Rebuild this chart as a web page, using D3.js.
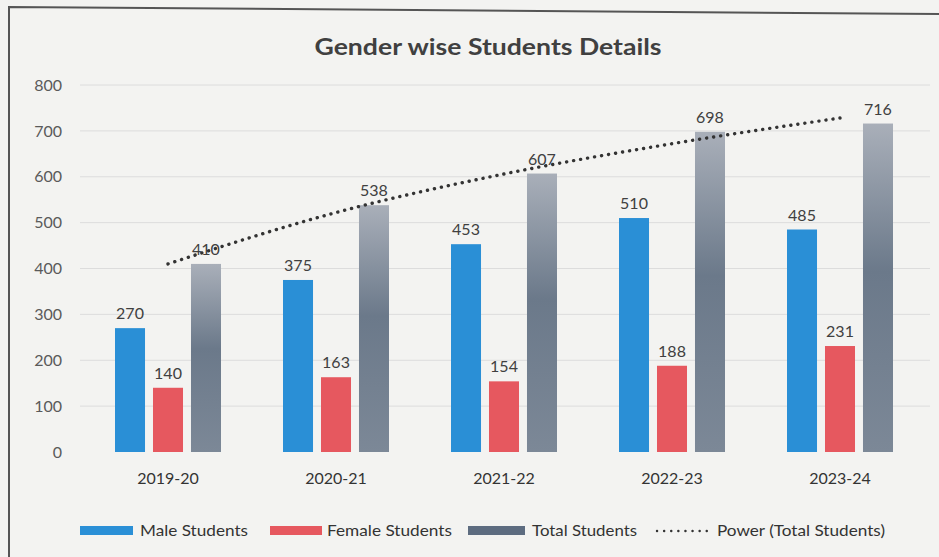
<!DOCTYPE html>
<html><head><meta charset="utf-8">
<script src="https://cdn.jsdelivr.net/npm/d3@7"></script>
<style>
html,body{margin:0;padding:0;background:#f3f3f1;}
svg{display:block;}
text{font-family:Lato,"Open Sans",sans-serif;}
</style></head>
<body><svg id="c" width="939" height="557"></svg>
<script>
const categories = ["2019-20","2020-21","2021-22","2022-23","2023-24"];
const maleStudents = [270,375,453,510,485];
const femaleStudents = [140,163,154,188,231];
const totalStudents = [410,538,607,698,716];
const trendTotal = [410,522,606,672,728];
const seriesNames = ["Male Students","Female Students","Total Students"];
const yTicks = [0,100,200,300,400,500,600,700,800];
const title = "Gender wise Students Details";
const trendName = "Power (Total Students)";

const svg = d3.select("#c");
const defs = svg.append("defs");
const g1 = defs.append("linearGradient").attr("id","totGrad").attr("x1",0).attr("y1",0).attr("x2",0).attr("y2",1);
g1.append("stop").attr("offset","0%").attr("stop-color","#a9afb9");
g1.append("stop").attr("offset","45%").attr("stop-color","#6b798a");
g1.append("stop").attr("offset","100%").attr("stop-color","#7c8897");

// border of the photographed chart
svg.append("path").attr("d","M9,557 L9,7 L939,14").attr("fill","none").attr("stroke","#555").attr("stroke-width",2);

const x = d3.scaleBand().domain(categories).range([84,924]).padding(0);
const xs = d3.scaleBand().domain(seriesNames).range([-53,53]).paddingInner(0.21);
const y = d3.scaleLinear().domain([0,800]).range([452,85]);

// gridlines
svg.append("g").selectAll("line").data(yTicks.slice(1)).join("line")
  .attr("x1",80).attr("x2",930).attr("y1",d=>y(d)).attr("y2",d=>y(d))
  .attr("stroke","#dcdcdc").attr("stroke-width",1);

// y axis labels
const yAxis = d3.axisLeft(y).tickValues(yTicks).tickSize(0).tickPadding(0);
const ya = svg.append("g").attr("transform","translate(62,0)").call(yAxis);
ya.select(".domain").remove();
ya.selectAll("text").attr("font-size",16).attr("fill","#5a5a5a").attr("font-family","Lato,sans-serif");

// x axis labels
const xAxis = d3.axisBottom(x).tickSize(0).tickPadding(0);
const xa = svg.append("g").attr("transform","translate(0,473)").call(xAxis);
xa.select(".domain").remove();
xa.selectAll("text").attr("font-size",16).attr("fill","#333").attr("font-family","Lato,sans-serif");

const colors = {"Male Students":"#2a8fd6","Female Students":"#e6585f","Total Students":"url(#totGrad)"};
const rows = categories.map((c,i)=>({cat:c, vals:[
  {s:"Male Students",v:maleStudents[i]},
  {s:"Female Students",v:femaleStudents[i]},
  {s:"Total Students",v:totalStudents[i]}]}));

const grp = svg.append("g").selectAll("g").data(rows).join("g")
  .attr("transform",d=>`translate(${x(d.cat)+x.bandwidth()/2},0)`);
grp.selectAll("rect").data(d=>d.vals).join("rect")
  .attr("x",d=>xs(d.s)).attr("width",xs.bandwidth())
  .attr("y",d=>y(d.v)).attr("height",d=>y(0)-y(d.v))
  .attr("fill",d=>colors[d.s]);
grp.selectAll("text").data(d=>d.vals).join("text")
  .attr("x",d=>xs(d.s)+xs.bandwidth()/2).attr("y",d=>y(d.v)-9)
  .attr("text-anchor","middle").attr("font-size",16).attr("fill","#404040")
  .text(d=>d.v);

// power trendline
const line = d3.line().x((d,i)=>x(categories[i])+x.bandwidth()/2).y(d=>y(d)).curve(d3.curveMonotoneX);
svg.append("path").attr("d",line(trendTotal)).attr("fill","none")
  .attr("stroke","#333").attr("stroke-width",3.4).attr("stroke-linecap","round")
  .attr("stroke-dasharray","0.1 7");

// title
svg.append("text").attr("x",488).attr("y",55).attr("text-anchor","middle")
  .attr("font-size",23).attr("font-weight","bold").attr("fill","#404040")
  .attr("textLength",347).attr("lengthAdjust","spacingAndGlyphs").text(title);

// legend
const leg = svg.append("g");
const legItems = [
  {name:"Male Students", x:80, w:53, tx:140, tw:108, type:"rect", fill:"#2a8fd6"},
  {name:"Female Students", x:270, w:52, tx:327, tw:125, type:"rect", fill:"#e6585f"},
  {name:"Total Students", x:468, w:57, tx:532, tw:105, type:"rect", fill:"#5d6c80"},
  {name:trendName, x:657, w:50, tx:717, tw:168, type:"dots"}];
legItems.forEach(it=>{
  if(it.type==="rect"){
    leg.append("rect").attr("x",it.x).attr("y",526).attr("width",it.w).attr("height",9).attr("fill",it.fill);
  } else {
    leg.append("line").attr("x1",it.x).attr("x2",it.x+it.w).attr("y1",531).attr("y2",531)
      .attr("stroke","#333").attr("stroke-width",2.4).attr("stroke-linecap","round").attr("stroke-dasharray","0.1 7");
  }
  leg.append("text").attr("x",it.tx).attr("y",536).attr("font-size",16).attr("fill","#333")
    .attr("textLength",it.tw).attr("lengthAdjust","spacingAndGlyphs").text(it.name);
});
</script></body></html>
